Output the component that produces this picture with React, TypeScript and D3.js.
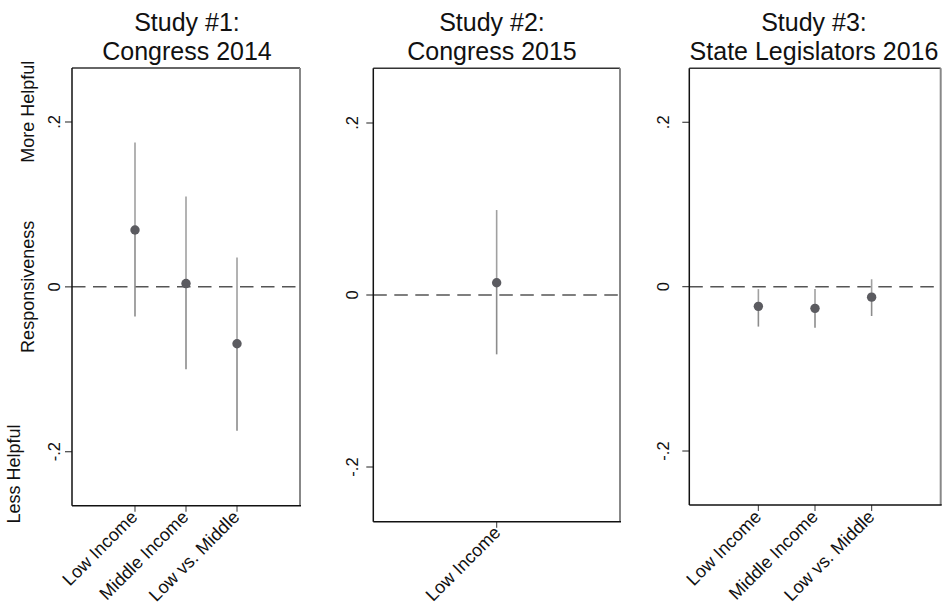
import React from "react";
import * as d3 from "d3";

// ---- data ----
const titleLine1 = ["Study #1:", "Study #2:", "Study #3:"];
const titleLine2 = ["Congress 2014", "Congress 2015", "State Legislators 2016"];

const study1Cats = ["Low Income", "Middle Income", "Low vs. Middle"];
const study1Est = [0.069, 0.004, -0.069];
const study1Lo = [-0.036, -0.1, -0.1745];
const study1Hi = [0.175, 0.1095, 0.0355];

const study2Cats = ["Low Income"];
const study2Est = [0.0143];
const study2Lo = [-0.069];
const study2Hi = [0.0988];

const study3Cats = ["Low Income", "Middle Income", "Low vs. Middle"];
const study3Est = [-0.024, -0.0264, -0.0128];
const study3Lo = [-0.0486, -0.0499, -0.0357];
const study3Hi = [-0.003, -0.003, 0.009];

const yTickValues = [-0.2, 0, 0.2];
const yTickLabels = ["-.2", "0", ".2"];

const yTitleTop = "More Helpful";
const yTitleMid = "Responsiveness";
const yTitleBot = "Less Helpful";

// ---- layout ----
const W = 949;
const H = 611;
const FONT = "'Liberation Sans', Arial, Helvetica, sans-serif";

type Panel = {
  cats: string[];
  est: number[];
  lo: number[];
  hi: number[];
  left: number;
  right: number;
  top: number;
  bottom: number;
  pad: number;
  yMax: number;
  titleX: number;
  tickLabelOffset: number;
  xLabelDx: number;
  xLabelDy: number;
};

const panels: Panel[] = [
  {
    cats: study1Cats, est: study1Est, lo: study1Lo, hi: study1Hi,
    left: 72, right: 300, top: 68, bottom: 505.7, pad: 1.235, yMax: 0.2655,
    titleX: 187, tickLabelOffset: 12, xLabelDx: 3.5, xLabelDy: 12.5,
  },
  {
    cats: study2Cats, est: study2Est, lo: study2Lo, hi: study2Hi,
    left: 373.3, right: 620, top: 68.3, bottom: 521.7, pad: 1, yMax: 0.2636,
    titleX: 492, tickLabelOffset: 15, xLabelDx: 5, xLabelDy: 12,
  },
  {
    cats: study3Cats, est: study3Est, lo: study3Lo, hi: study3Hi,
    left: 689.3, right: 940.7, top: 68.3, bottom: 505, pad: 1.22, yMax: 0.2657,
    titleX: 814, tickLabelOffset: 20, xLabelDx: 4, xLabelDy: 13,
  },
];

function PanelView({ p, i }: { p: Panel; i: number }) {
  const n = p.cats.length;
  const x = d3
    .scaleLinear()
    .domain([1 - p.pad, n + p.pad])
    .range([p.left, p.right]);
  const y = d3.scaleLinear().domain([-p.yMax, p.yMax]).range([p.bottom, p.top]);
  const y0 = y(0);

  return (
    <g>
      {/* titles */}
      <text x={p.titleX} y={31} textAnchor="middle" fontSize={25} fill="#111">
        {titleLine1[i]}
      </text>
      <text x={p.titleX} y={59.5} textAnchor="middle" fontSize={25} fill="#111">
        {titleLine2[i]}
      </text>

      {/* reference line at 0 */}
      <line
        x1={p.left}
        x2={p.right}
        y1={y0}
        y2={y0}
        stroke="#555"
        strokeWidth={1.5}
        strokeDasharray="13.5,7.5"
      />

      {/* y ticks */}
      {yTickValues.map((v, k) => (
        <g key={k}>
          <line x1={p.left - 7} x2={p.left} y1={y(v)} y2={y(v)} stroke="#444" strokeWidth={1.2} />
          <text
            transform={`translate(${p.left - p.tickLabelOffset},${y(v)}) rotate(-90)`}
            textAnchor="middle"
            fontSize={16.5}
            fill="#111"
          >
            {yTickLabels[k]}
          </text>
        </g>
      ))}

      {/* CI lines and points */}
      {p.cats.map((c, k) => {
        const cx = x(k + 1);
        return (
          <g key={c}>
            <line x1={cx} x2={cx} y1={y(p.hi[k])} y2={y(p.est[k])} stroke="#a0a0a0" strokeWidth={1.6} />
            <line x1={cx} x2={cx} y1={y(p.est[k])} y2={y(p.lo[k])} stroke="#8c8c8c" strokeWidth={1.6} />
            <circle cx={cx} cy={y(p.est[k])} r={4.7} fill="#5b5b60" />
          </g>
        );
      })}

      {/* x ticks & labels */}
      {p.cats.map((c, k) => {
        const cx = x(k + 1);
        return (
          <g key={"t" + c}>
            <line x1={cx} x2={cx} y1={p.bottom} y2={p.bottom + 6} stroke="#555" strokeWidth={1.2} />
            <text
              transform={`translate(${cx + p.xLabelDx},${p.bottom + p.xLabelDy}) rotate(-45)`}
              textAnchor="end"
              fontSize={18}
              fill="#111"
            >
              {c}
            </text>
          </g>
        );
      })}

      {/* frame */}
      <line x1={p.left} x2={p.right} y1={p.top} y2={p.top} stroke="#333" strokeWidth={1.6} />
      <line x1={p.right} x2={p.right} y1={p.top} y2={p.bottom} stroke="#888" strokeWidth={2} />
      <line x1={p.left} x2={p.left} y1={p.top} y2={p.bottom} stroke="#111" strokeWidth={1.5} />
      <line x1={p.left} x2={p.right + 1} y1={p.bottom} y2={p.bottom} stroke="#111" strokeWidth={1.5} />
    </g>
  );
}

export default function App() {
  const p0 = panels[0];
  const y0 = d3.scaleLinear().domain([-p0.yMax, p0.yMax]).range([p0.bottom, p0.top]);
  return (
    <svg
      width={W}
      height={H}
      style={{ position: "absolute", left: 0, top: 0, background: "#fff" }}
      fontFamily={FONT}
    >
      <rect x={0} y={0} width={W} height={H} fill="#fff" />
      <text transform={`translate(33.5,111.7) rotate(-90)`} textAnchor="middle" fontSize={18} fill="#111">
        {yTitleTop}
      </text>
      <text transform={`translate(33.5,${y0(0)}) rotate(-90)`} textAnchor="middle" fontSize={18} fill="#111">
        {yTitleMid}
      </text>
      <text transform={`translate(19.5,474) rotate(-90)`} textAnchor="middle" fontSize={18} fill="#111">
        {yTitleBot}
      </text>
      {panels.map((p, i) => (
        <PanelView key={i} p={p} i={i} />
      ))}
    </svg>
  );
}
